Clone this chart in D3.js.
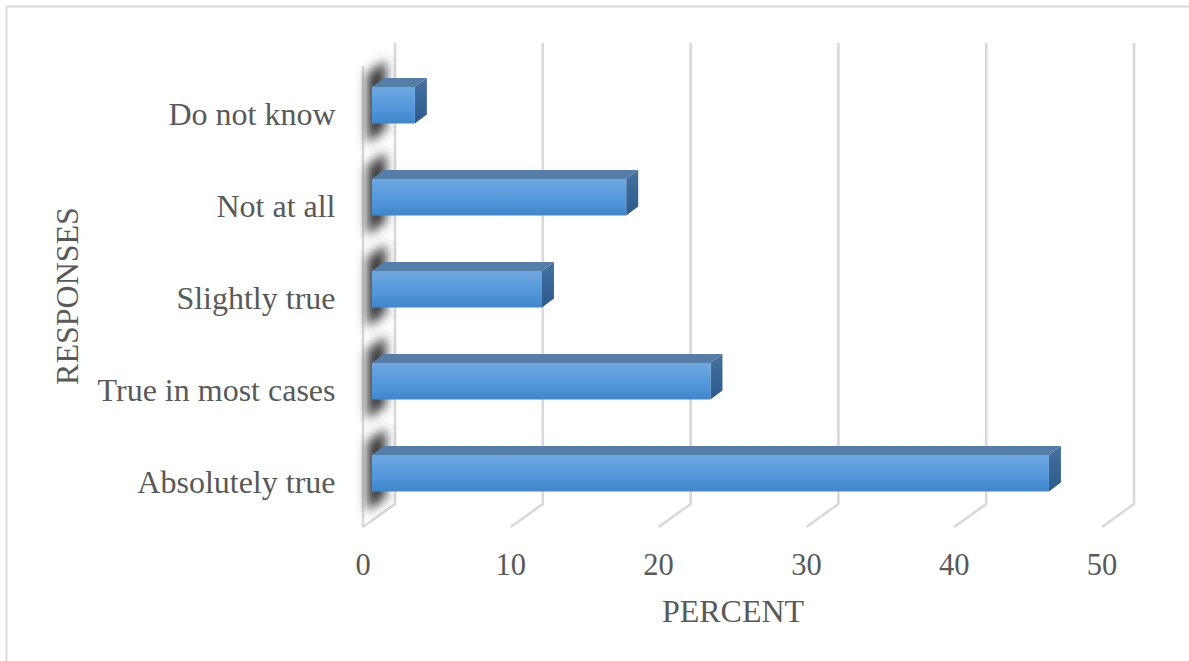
<!DOCTYPE html>
<html>
<head>
<meta charset="utf-8">
<script src="https://cdn.jsdelivr.net/npm/d3@7"></script>
<style>
html,body{margin:0;padding:0;background:#fff}
svg{display:block}
text{font-family:"Liberation Serif",serif;fill:#595959}
</style>
</head>
<body>
<script>
const categories = ["Absolutely true", "True in most cases", "Slightly true", "Not at all", "Do not know"];
const percentValues = [45.8, 22.9, 11.5, 17.2, 2.9];
const xTicks = [0, 10, 20, 30, 40, 50];
const xTitle = "PERCENT";
const yTitle = "RESPONSES";

const W = 1189, H = 661;
const svg = d3.select("body").append("svg").attr("width", W).attr("height", H);
const defs = svg.append("defs");

// Bar face and side shading
const faceGrad = defs.append("linearGradient").attr("id", "face").attr("x1", 0).attr("y1", 0).attr("x2", 0).attr("y2", 1);
faceGrad.append("stop").attr("offset", "0%").attr("stop-color", "#6fa8e0");
faceGrad.append("stop").attr("offset", "60%").attr("stop-color", "#5196da");
faceGrad.append("stop").attr("offset", "100%").attr("stop-color", "#3f86cb");
const sideGrad = defs.append("linearGradient").attr("id", "side").attr("x1", 0).attr("y1", 0).attr("x2", 0).attr("y2", 1);
sideGrad.append("stop").attr("offset", "0%").attr("stop-color", "#46719f");
sideGrad.append("stop").attr("offset", "100%").attr("stop-color", "#2a5a8c");
defs.append("filter").attr("id", "soft")
  .attr("filterUnits", "userSpaceOnUse").attr("x", 340).attr("y", 30).attr("width", 80).attr("height", 510)
  .append("feGaussianBlur").attr("stdDeviation", 5.5);

// Chart frame (open on the right and bottom)
svg.append("path").attr("d", "M6.5,661V6.5H1189").attr("fill", "none").attr("stroke", "#d9d9d9").attr("stroke-width", 1.8);

// Projection of the 3D box
const depthX = 32, depthY = -23;
const frontLeft = 363, plotBottom = 527, plotTop = 66;
const xFront = d3.scaleLinear().domain([0, 50]).range([frontLeft, 1102]);
const x = d3.scaleLinear().domain([0, 50]).range([372, 1111]);
const barOffset = { dx: 12, dy: -9 };

const grid = svg.append("g").attr("fill", "none").attr("stroke", "#d9d9d9").attr("stroke-width", 2.6);
xTicks.forEach(t => {
  const x0 = xFront(t);
  grid.append("path").attr("d", `M${x0},${plotBottom}L${x0 + depthX},${plotBottom + depthY}V${plotTop + depthY}`);
});
grid.append("path").attr("d", `M${frontLeft},${plotBottom}V${plotTop}`);

// Soft shadows falling on the side wall behind each bar
const bandY = c => 455 - categories.indexOf(c) * 92;
const barH = 36.5;
svg.append("g").selectAll("path").data(categories).join("path")
  .attr("d", c => `M367,${bandY(c) + barH + 20}L386,${bandY(c) + barH + 6}V${bandY(c) - 27}L367,${bandY(c) - 13}Z`)
  .attr("fill", "#3a3a3a").attr("filter", "url(#soft)");

// Bars: top, side and front faces
const bars = svg.append("g").selectAll("g").data(categories).join("g");
bars.append("path")
  .attr("d", c => {
    const x1 = x(percentValues[categories.indexOf(c)]), y0 = bandY(c), x0 = x(0);
    return `M${x0},${y0}L${x0 + barOffset.dx},${y0 + barOffset.dy}H${x1 + barOffset.dx}L${x1},${y0}Z`;
  })
  .attr("fill", "#557da8");
bars.append("path")
  .attr("d", c => {
    const x1 = x(percentValues[categories.indexOf(c)]), y0 = bandY(c);
    return `M${x1},${y0}L${x1 + barOffset.dx},${y0 + barOffset.dy}V${y0 + barH + barOffset.dy}L${x1},${y0 + barH}Z`;
  })
  .attr("fill", "url(#side)");
bars.append("rect")
  .attr("x", x(0))
  .attr("y", c => bandY(c))
  .attr("width", c => x(percentValues[categories.indexOf(c)]) - x(0))
  .attr("height", barH)
  .attr("fill", "url(#face)");

// Category labels
svg.append("g").selectAll("text").data(categories).join("text")
  .attr("x", 335.5).attr("y", c => bandY(c) + 37.5)
  .attr("text-anchor", "end").attr("font-size", 32).text(c => c);

// Value axis labels
svg.append("g").selectAll("text").data(xTicks).join("text")
  .attr("x", t => xFront(t)).attr("y", 575)
  .attr("text-anchor", "middle").attr("font-size", 30.5).text(t => t);

// Axis titles
svg.append("text").attr("x", 733).attr("y", 622).attr("text-anchor", "middle").attr("font-size", 32).text(xTitle);
svg.append("text").attr("transform", "translate(78,296) rotate(-90)").attr("text-anchor", "middle").attr("font-size", 32).text(yTitle);
</script>
</body>
</html>
